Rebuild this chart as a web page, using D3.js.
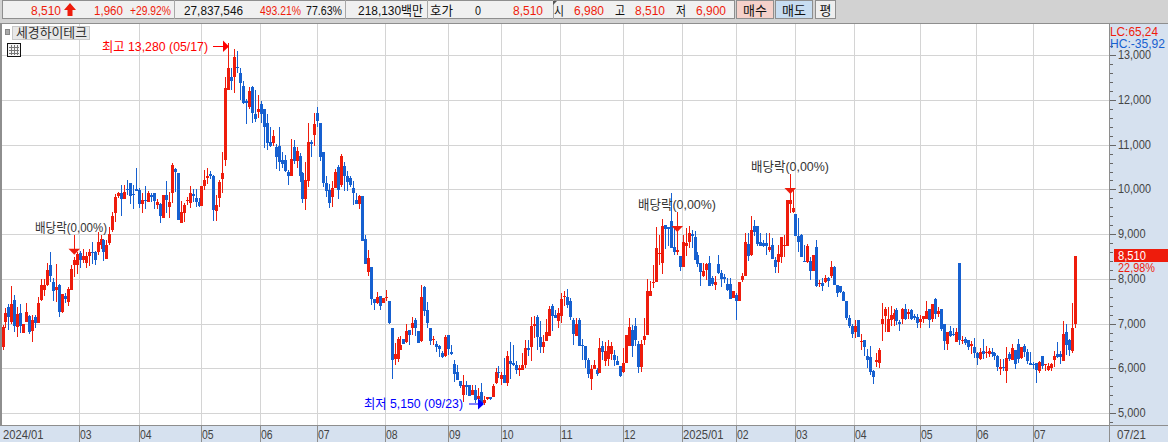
<!DOCTYPE html>
<html><head><meta charset="utf-8">
<script src="https://cdn.jsdelivr.net/npm/d3@7"></script>
<style>html,body{margin:0;padding:0;background:#fff;overflow:hidden}svg{display:block}text{font-family:"Liberation Sans","Noto Sans CJK KR",sans-serif;font-size:13px}</style>
</head><body><svg id="c" width="1168" height="442"></svg>
<script>
const opens=[
6470,7040,7360,7040,7530,6920,7240,6790,7040,7170,
6830,7140,7015,7530,7740,7870,8300,7940,7740,7870,
7260,7620,7490,7740,8300,8300,8570,8420,8360,8520,
8590,8590,8590,8760,8870,8450,8800,9100,9470,9850,
9910,9780,10020,10150,9890,10000,9980,9670,9760,9725,
9870,9910,9650,9670,9370,9870,9600,9910,10465,10370,
9260,9470,9740,9700,9895,9800,9720,9640,10070,10260,
10350,10295,9520,9800,10240,10660,12220,12520,12520,12745,
12610,12310,11980,11850,12300,11690,11725,11910,11790,11480,
11070,11045,10955,10970,10660,10660,10380,10300,10945,10640,
10750,10365,9790,10195,11050,11220,11700,11480,10830,10155,
9990,9840,10030,10510,10100,10525,10300,10265,10030,9770,
9680,9860,8890,8160,8265,7560,7460,7610,7460,7570,
7515,6905,6210,6215,6420,6665,6585,6850,6890,7090,
6845,6605,7815,7310,6890,6640,6550,6490,6345,6285,
6740,6365,6100,5925,5725,5395,5635,5620,5395,5525,
5315,5470,5225,5310,5360,5355,5660,5920,5750,5860,
5670,6170,6120,6080,5970,5970,6070,6455,6470,6950,
7150,6700,6470,6620,6715,7390,7200,7050,7180,7610,
7600,7515,7090,6730,7090,6510,6490,6180,5765,5990,
5970,5895,6490,6155,6205,6310,6300,6155,6055,5915,
6115,6490,6860,6950,6550,6030,6640,6740,7610,7920,
7930,8570,8365,9200,9150,9305,8710,8610,8515,8255,
8725,8815,9000,8930,8540,8350,8055,8190,8350,8015,
7860,8335,8130,8040,7890,7890,7570,7645,7495,7980,
8070,8775,8540,9185,9185,8815,8800,8800,8635,8760,
8425,8380,8485,8740,8740,9670,9485,9455,8960,8985,
8410,8375,8390,8180,8710,7895,7905,7920,8015,8055,
8275,7870,7845,7695,7510,7120,6935,6810,7085,6600,
6625,6265,6245,5930,6130,6115,6985,7165,6815,7090,
7105,7300,7030,7105,7320,7210,7300,7180,7140,7035,
7110,7110,7320,7100,7545,7225,7320,6985,6545,6830,
6775,6590,8350,6625,6665,6625,6490,6475,6340,6200,
6380,6340,6325,6370,6340,6265,5980,6035,5950,6325,
6190,6400,6535,6230,6490,6370,6110,6100,6115,5935,
6265,6065,5965,6010,6175,6310,6325,6155,6820,6625,6385,6980];
const closes=[
6920,7240,7150,7440,6940,7210,6940,6985,7260,6810,
7080,7015,7470,7870,7870,8200,8060,7720,7820,7270,
7660,7550,7780,8210,8420,8550,8420,8520,8520,8610,
8570,8420,8830,8890,8610,8760,9000,9400,9830,9910,
9780,9950,9980,9860,9870,9970,9670,9760,9740,9930,
9840,9750,9725,9400,9870,9760,9725,10540,10380,9320,
9500,9650,9760,9910,9860,9725,9640,10070,10210,10295,
10295,9540,9650,10170,10370,12260,12720,12430,12955,12725,
12390,11925,11925,12200,11700,11570,11800,11690,11390,11045,
10970,11195,10730,10620,10570,10410,10300,10675,10640,10850,
10290,9790,10210,11070,11015,11465,11540,10735,10155,9955,
9695,10040,10380,9990,10750,10290,10160,10100,9920,9680,
9860,8840,8340,8465,7560,7460,7600,7390,7570,7590,
7015,6180,6330,6665,6515,6550,6845,6755,7015,6890,
6570,7600,7275,7015,6605,6665,6470,6440,6250,6695,
6440,6330,5880,5730,5600,5635,5580,5375,5525,5280,
5390,5200,5300,5360,5310,5615,5920,5900,5860,5660,
6285,6105,6070,5970,6010,6080,6455,6400,6955,7000,
6695,6470,6590,6820,7335,7165,7130,7240,7560,7625,
7410,7140,6770,6980,6490,6490,6180,5880,5990,6065,
5880,6450,6365,6380,6490,6490,6190,6080,5820,6115,
6750,6915,6490,6640,6030,6550,6730,7735,7735,7930,
8700,8575,9185,9120,9115,8700,8610,8650,8255,8835,
8800,9020,8950,8425,8335,8150,8165,8335,7845,7880,
7920,8130,7995,7995,7740,7555,7720,7495,7935,8075,
8815,8515,9095,9045,8775,8725,8725,8725,8715,8440,
8260,8560,8930,8760,9770,9770,9590,8960,8835,8485,
8390,8745,8165,8540,7845,7910,7830,8025,7955,8260,
7870,7680,7695,7495,7120,6935,6765,6950,6710,6610,
6475,6175,5915,5815,6175,6420,7110,7320,7095,7185,
7245,7050,6990,7320,7110,7260,7100,7130,7015,7110,
7165,7285,7090,7435,7210,7285,6870,6605,6805,6715,
6760,6815,6625,6640,6565,6475,6535,6335,6235,6365,
6325,6365,6385,6310,6265,6020,6020,6010,6220,6200,
6445,6085,6215,6485,6365,6160,6065,6085,5965,6145,
6040,6100,6055,6100,6265,6250,6250,6760,6515,6400,6910,8510];
const highs=[
6960,7340,7440,7850,7640,7360,7440,6985,7450,7190,
7190,7190,7590,8000,8000,8360,8610,8020,8330,7890,
7660,7680,7820,8300,8500,8590,8630,8670,8590,8670,
8830,8630,9050,8990,8890,8860,9150,9500,9900,9950,
10100,10100,10220,10150,10100,10490,10040,9910,10070,9970,
9910,9925,9780,9690,9870,10180,9950,10590,10490,10370,
9750,9700,9820,10070,10000,10000,9800,10070,10440,10490,
10410,10320,9870,10210,10840,12520,13280,12710,13130,13100,
12710,12430,12020,12300,12315,12220,12110,11980,11810,11690,
11390,11340,11015,11390,10830,10770,10430,11120,11105,10955,
10810,10390,10620,11490,11110,11700,11850,11480,10835,10300,
10125,10180,10460,10550,10795,10620,10420,10300,10180,9930,
9880,9860,8985,8650,8265,7560,7700,7610,7570,7760,
7515,6905,6570,6700,6715,6665,7000,6850,7150,7125,
6845,7870,7835,7480,6890,6730,6605,6530,6380,6755,
6740,6530,6175,6080,5725,5860,5725,5635,5635,5635,
5560,5660,5375,5360,5360,5650,6010,6045,5910,6230,
6380,6590,6510,6155,6080,6345,6630,6640,7150,7165,
7190,7050,6740,7105,7400,7430,7310,7350,7690,7720,
7780,7575,7125,7125,7125,6650,6490,6230,6080,6190,
6005,6675,6620,6590,6640,6585,6410,6280,6055,6450,
6750,7120,6970,7120,6600,6640,7120,8000,7950,8315,
9170,8985,9335,9200,9150,9930,9135,9060,8515,8985,
9135,9185,9100,9060,8610,8350,8350,8350,8515,8070,
8055,8540,8205,8115,8015,8015,7720,7685,7935,8130,
9020,9020,9395,9320,9185,9020,8860,9020,9035,8910,
8485,8760,8930,8985,9770,10000,10000,9455,9360,9000,
8760,8780,8485,8540,8860,7985,8025,8085,8050,8400,
8290,7870,7845,7720,7510,7195,7000,7085,7085,6760,
6640,6440,6490,5970,6350,6450,7450,7375,7360,7390,
7320,7350,7075,7350,7435,7320,7320,7210,7225,7185,
7165,7500,7320,7435,7565,7375,7320,7000,6815,6940,
6910,6910,8350,6730,6690,6640,6610,6685,6365,6450,
6660,6490,6460,6445,6365,6290,6200,6200,6475,6365,
6535,6400,6650,6485,6535,6440,6365,6140,6115,6160,
6265,6100,6115,6115,6385,6590,6380,7050,6985,6660,7450,8510];
const lows=[
6400,6900,6850,7000,6810,6710,6790,6790,7040,6770,
6580,6890,7015,7510,7610,7850,7920,7510,7490,7150,
7230,7450,7390,7740,8040,8100,8250,8350,8250,8290,
8330,8300,8530,8670,8400,8440,8750,9050,9280,9800,
9400,9780,9870,9670,9555,9970,9580,9480,9555,9710,
9725,9555,9555,9240,9370,9470,9370,9700,9950,9320,
9260,9280,9650,9580,9725,9610,9600,9640,9980,10130,
10240,9300,9300,9600,9920,10520,12220,12220,12165,12600,
12000,11910,11455,11790,11490,11515,11590,11480,10920,10880,
10950,10970,10450,10420,10470,10400,10100,10300,10570,10470,
10170,9690,9540,10060,10720,10970,11400,10640,10060,9840,
9580,9600,10030,9790,10050,9955,9955,10065,9655,9680,
9560,8840,8340,8060,7425,7310,7445,7310,7460,7500,
6980,5770,6080,6150,6420,6550,6570,6510,6755,6715,
6570,6585,7165,6900,6530,6515,6360,6255,6230,6255,
6290,6305,5690,5730,5560,5250,5410,5375,5395,5225,
5315,5150,5190,5300,5300,5355,5650,5785,5635,5660,
5600,5750,6050,5875,5820,5960,6010,6270,6160,6680,
6420,6345,6345,6605,6715,6825,7130,6900,7015,7390,
7350,7090,6510,6715,6490,6190,6005,5780,5520,5990,
5820,5895,6190,6040,6040,6190,6040,6080,5800,5895,
6115,6490,6260,6490,5900,5915,6520,6740,7610,7790,
7930,8305,8115,8660,8725,8700,8540,8540,8165,8255,
8515,8690,8690,8425,8260,7830,8040,7980,7830,7845,
7740,8115,7815,7905,7730,7555,7570,7085,7495,7920,
8070,8390,8515,8950,8725,8725,8710,8540,8610,8440,
8130,8140,8365,8500,8740,9470,9470,8960,8610,8485,
8390,8350,7965,8165,7815,7815,7720,7905,7815,8015,
7870,7590,7680,7495,7085,6900,6670,6675,6690,6400,
6265,6010,5840,5650,6025,6010,6600,6815,6815,6940,
6940,6960,6835,6985,7075,7110,7075,7090,6900,6900,
7015,7110,6900,7040,7100,7150,6835,6420,6420,6700,
6715,6590,6510,6550,6510,6420,6325,6230,6065,6190,
6200,6235,6250,6250,6175,5950,5860,5950,5665,6160,
6175,5990,6115,6215,6250,6100,6065,5990,5665,5890,
5990,5935,5935,5935,6025,6235,6085,6155,6290,6265,6340,6900];
const monthIndex=[0,26,46,67,87,106,129,150,168,188,209,229,247,267,287,309,328,347];
const monthLabels=["2024/01","03","04","05","06","07","08","09","10","11","12","2025/01","02","03","04","05","06","07"];
const priceTicks=[5000,6000,7000,8000,9000,10000,11000,12000,13000];
const minorTicks=d3.range(4800,13400,200);
const dividendIndex=[24,227,265];
const dividendPrice=[8540,9050,9900];
const highIndex=76, highPrice=13280, lowIndex=161, lowPrice=5150, lastPrice=8510;

const RED="#ee1c0c",BLUE="#1660d0",GRID="#d4d4d4",AXIS="#8e8e8e",PANEL="#d6e1ef",TXT="#444";
const svg=d3.select("#c");
const N=opens.length;
const band=d3.scaleBand().domain(d3.range(N)).range([1.515,1.515+N*2.97]);
const xc=i=>band(i)+band.bandwidth()/2;
const y=d3.scaleLinear().domain([5000,13000]).range([413,55.3]);
const fmt=d3.format(",");
function T(g,s,x,yy,fill,opt={}){const t=g.append("text").attr("x",x).attr("y",yy).attr("fill",fill).text(s);
 if(opt.w){t.attr("textLength",opt.w).attr("lengthAdjust","spacingAndGlyphs");} if(opt.anchor)t.attr("text-anchor",opt.anchor); return t;}
function R(g,x,yy,w,h,fill,stroke){return g.append("rect").attr("x",x).attr("y",yy).attr("width",w).attr("height",h).attr("fill",fill).attr("stroke",stroke||"none").attr("shape-rendering","crispEdges");}

/* top bar */
const topBar=svg.append("g");
R(topBar,0,0,1168,23,"#d2d2d2");
R(topBar,2,0.5,732,18,"#f0f0f0","#8e8e8e");
[173.5,344.5,426.5,552.5].forEach(x=>R(topBar,x,0,1,19,"#a8a8a8"));
topBar.append("path").attr("d","M553 1h4l-4 4z").attr("fill","#555");
const headerItems=[["8,510",31,30,RED],["1,960",94,29,RED],["+29.92%",130,41,RED],["27,837,546",184,59,"#111"],["493.21%",260,41,RED],["77.63%",306,36,"#111"],["218,130백만",358,65,"#111"],["호가",430,23,"#111"],["0",475,6,"#111"],["8,510",513,30,RED],["시",554,10,"#111"],["6,980",574,30,RED],["고",615,10,"#111"],["8,510",635,30,RED],["저",676,10,"#111"],["6,900",696,30,RED]];
headerItems.forEach(d=>T(topBar,d[0],d[1],15,d[3],{w:d[2]}));
topBar.append("path").attr("d","M70 3l6 7h-3.5v6h-5v-6H64z").attr("fill",RED);
[[736,37,"#f5d1ca","매수"],[775,37,"#c8ddf1","매도"],[815,20,"#eeeeee","평"]].forEach(b=>{
 R(topBar,b[0]+.5,.5,b[1],18,b[2],"#8e8e8e");T(topBar,b[3],b[0]+b[1]/2+.5,15,"#111",{anchor:"middle"});});

/* panels & grid */
const gg=svg.append("g");
R(gg,1110,24,58,402,PANEL);
R(gg,0,426,1168,16,PANEL);
gg.selectAll("line.h").data(priceTicks).join("line").attr("class","h").attr("x1",2).attr("x2",1109).attr("y1",d=>Math.round(y(d))+.5).attr("y2",d=>Math.round(y(d))+.5).attr("stroke",GRID);
gg.selectAll("line.v").data(monthIndex.slice(1)).join("line").attr("class","v").attr("y1",24).attr("y2",426).attr("x1",d=>Math.round(band(d)+.5)+.5).attr("x2",d=>Math.round(band(d)+.5)+.5).attr("stroke",GRID);
R(gg,0,23,1168,1,AXIS);
R(gg,0,23,2,403,AXIS);
R(gg,1109,23,1,419,AXIS);
R(gg,0,425,1168,1,AXIS);
/* y axis */
const ax=svg.append("g");
const visMinor=minorTicks.filter(d=>y(d)<424&&y(d)>26);
ax.selectAll("line.m").data(visMinor).join("line").attr("class","m").attr("x1",1110).attr("x2",d=>priceTicks.includes(d)?1116:1113).attr("y1",d=>Math.round(y(d))+.5).attr("y2",d=>Math.round(y(d))+.5).attr("stroke","#666");
priceTicks.forEach(p=>{const s=fmt(p);T(ax,s,1118,Math.round(y(p))+4,TXT,{w:s.length*5.5});});
/* x axis */
monthIndex.forEach((m,i)=>{const x=i==0?3:Math.round(band(m)+.5)+1;
 if(i>0)R(ax,Math.round(band(m)+.5),426,1,16,AXIS);
 T(ax,monthLabels[i],x,439,TXT,{w:monthLabels[i].length*5.8});});
T(ax,"07/21",1117,439,TXT,{w:29});

/* candles */
const cg=svg.append("g").attr("shape-rendering","crispEdges");
d3.range(N).forEach(i=>{
 const up=closes[i]>=opens[i],col=up?RED:BLUE,c=xc(i);
 const t=y(Math.max(opens[i],closes[i])),b=y(Math.min(opens[i],closes[i]));
 cg.append("rect").attr("x",Math.round(c-.5)).attr("width",1).attr("y",Math.round(y(highs[i]))).attr("height",Math.max(1,Math.round(y(lows[i]))-Math.round(y(highs[i])))).attr("fill",col);
 cg.append("rect").attr("x",Math.round(c-1.5)).attr("width",3).attr("y",Math.round(t)).attr("height",Math.max(1,Math.round(b)-Math.round(t))).attr("fill",col);
});

/* annotations */
const an=svg.append("g");
dividendIndex.forEach((ix,k)=>{const x=Math.round(xc(ix)),tip=y(dividendPrice[k]);
 an.append("rect").attr("x",x-.5).attr("y",tip-20).attr("width",1.6).attr("height",16).attr("fill",RED).attr("shape-rendering","crispEdges");
 an.append("path").attr("d",`M${x-5.5} ${tip-6}H${x+6}L${x+.3} ${tip}Z`).attr("fill",RED);
 const lx=[35,638,751][k];
 T(an,"배당락(0,00%)",lx,tip-22.5,"#333",{w:[72,78,78][k]});
});
const hx=Math.round(xc(highIndex)),hy=46;
T(an,"최고 13,280 (05/17)",102,hy+4.5,"#ff0000",{w:106});
an.append("rect").attr("x",213).attr("y",hy).attr("width",hx-214).attr("height",1).attr("fill","#ff0000");
an.append("path").attr("d",`M${hx-6} ${hy-5.5}L${hx} ${hy+.5}L${hx-6} ${hy+6}Z`).attr("fill","#ff0000");
const lxx=Math.round(xc(lowIndex)),lyy=403.5;
T(an,"최저 5,150 (09/23)",364,lyy+4.5,"#0000ff",{w:99});
an.append("rect").attr("x",469).attr("y",lyy).attr("width",12).attr("height",1).attr("fill","#0000ff");
an.append("path").attr("d",`M${lxx-3} ${lyy-5.5}L${lxx+3} ${lyy+.5}L${lxx-3} ${lyy+6}Z`).attr("fill","#0000ff");

/* legend */
const lg=svg.append("g");
R(lg,5.5,29.5,4,5,"#aaa","#888");
R(lg,12.5,26.5,77,13,"#e8e8e8","#c8c8c8");
T(lg,"세경하이테크",16,37,"#333",{w:71});
R(lg,7.5,43.5,13,13,"#f4f4f4","#111");
lg.append("path").attr("d","M9 47h10M9 50h10M9 53h10M11.5 45v10M14.5 45v10M17.5 45v10").attr("stroke","#777").attr("fill","none").attr("shape-rendering","crispEdges");

/* right labels */
const rl=svg.append("g");
T(rl,"LC:65,24",1110,36,RED,{w:48});
T(rl,"HC:-35,92",1110,48,BLUE,{w:55});
R(rl,1114,249,54,13,RED);
T(rl,fmt(lastPrice),1118,260,"#fff",{w:28});
T(rl,"22,98%",1118,272,RED,{w:37});
</script></body></html>
